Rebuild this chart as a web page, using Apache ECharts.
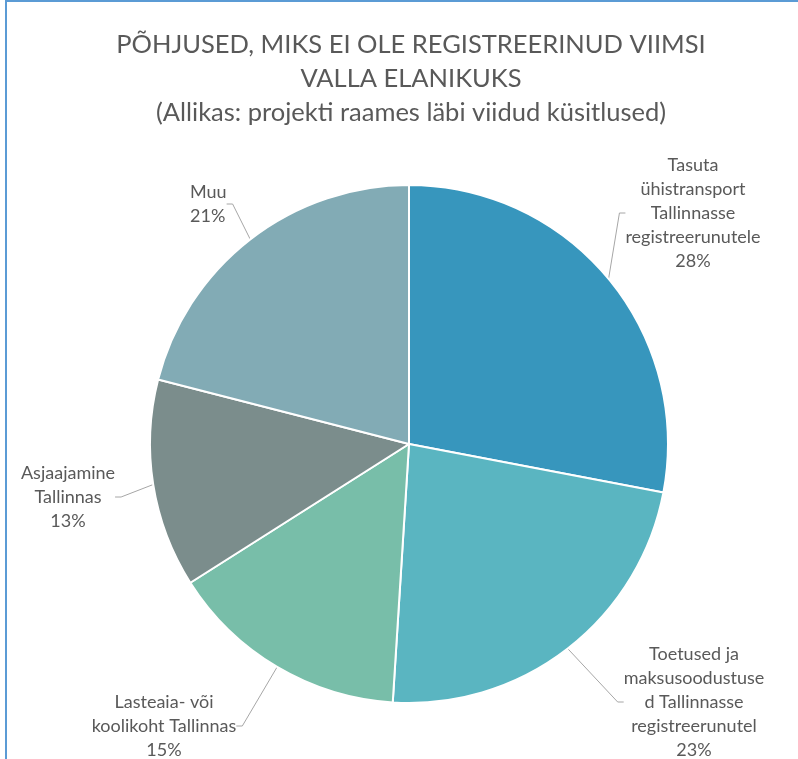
<!DOCTYPE html>
<html>
<head>
<meta charset="utf-8">
<script src="https://cdn.jsdelivr.net/npm/echarts@6/dist/echarts.min.js"></script>
<style>
  html, body { margin: 0; padding: 0; background: #fff; }
  #chart { width: 798px; height: 759px; }
  .frame {
    position: absolute; left: 5px; top: 0; width: 793px; height: 759px;
    border-top: 2px solid #5B9BD5; border-left: 2px solid #5B9BD5;
    box-sizing: border-box; pointer-events: none;
  }
</style>
</head>
<body>
<div id="chart"></div>
<div class="frame"></div>
<script>
// data
const categories = [
  'Tasuta\nühistransport\nTallinnasse\nregistreerunutele',
  'Toetused ja\nmaksusoodustuse\nd Tallinnasse\nregistreerunutel',
  'Lasteaia- või\nkoolikoht Tallinnas',
  'Asjaajamine\nTallinnas',
  'Muu'
];
const shares = [28, 23, 15, 13, 21];

// styles
const colors = ['#3796BD', '#5AB5C1', '#78BEA9', '#7B8D8C', '#82ABB5'];
const labelPos = [
  { x: 693, y: 213, align: 'center' },
  { x: 694, y: 702, align: 'center' },
  { x: 164, y: 726, align: 'center' },
  { x: 68, y: 497, align: 'center' },
  { x: 190, y: 204, align: 'left' }
];

const chart = echarts.init(document.getElementById('chart'));
const option = {
  animation: false,
  title: {
    text: 'PÕHJUSED, MIKS EI OLE REGISTREERINUD VIIMSI\nVALLA ELANIKUKS\n(Allikas: projekti raames läbi viidud küsitlused)',
    left: 411,
    textAlign: 'center',
    top: 28,
    padding: 0,
    textStyle: {
      fontFamily: 'Lato, sans-serif',
      fontWeight: 'normal',
      fontSize: 25.5,
      lineHeight: 34,
      color: '#595959'
    }
  },
  series: [{
    type: 'pie',
    center: [409, 444],
    radius: 259,
    startAngle: 90,
    clockwise: true,
    itemStyle: { borderColor: '#fff', borderWidth: 2 },
    label: {
      show: true,
      formatter: '{b}\n{c}%',
      fontFamily: 'Lato, sans-serif',
      fontSize: 18,
      lineHeight: 24,
      color: '#595959'
    },
    labelLine: {
      show: true,
      length: 10,
      length2: 6,
      lineStyle: { color: '#A6A6A6', width: 1 }
    },
    labelLayout: function (p) {
      const pos = labelPos[p.dataIndex];
      return { x: pos.x, y: pos.y, align: pos.align, verticalAlign: 'middle' };
    },
    data: categories.map((name, i) => ({
      name: name,
      value: shares[i],
      itemStyle: { color: colors[i] }
    }))
  }]
};
chart.setOption(option);
</script>
</body>
</html>
